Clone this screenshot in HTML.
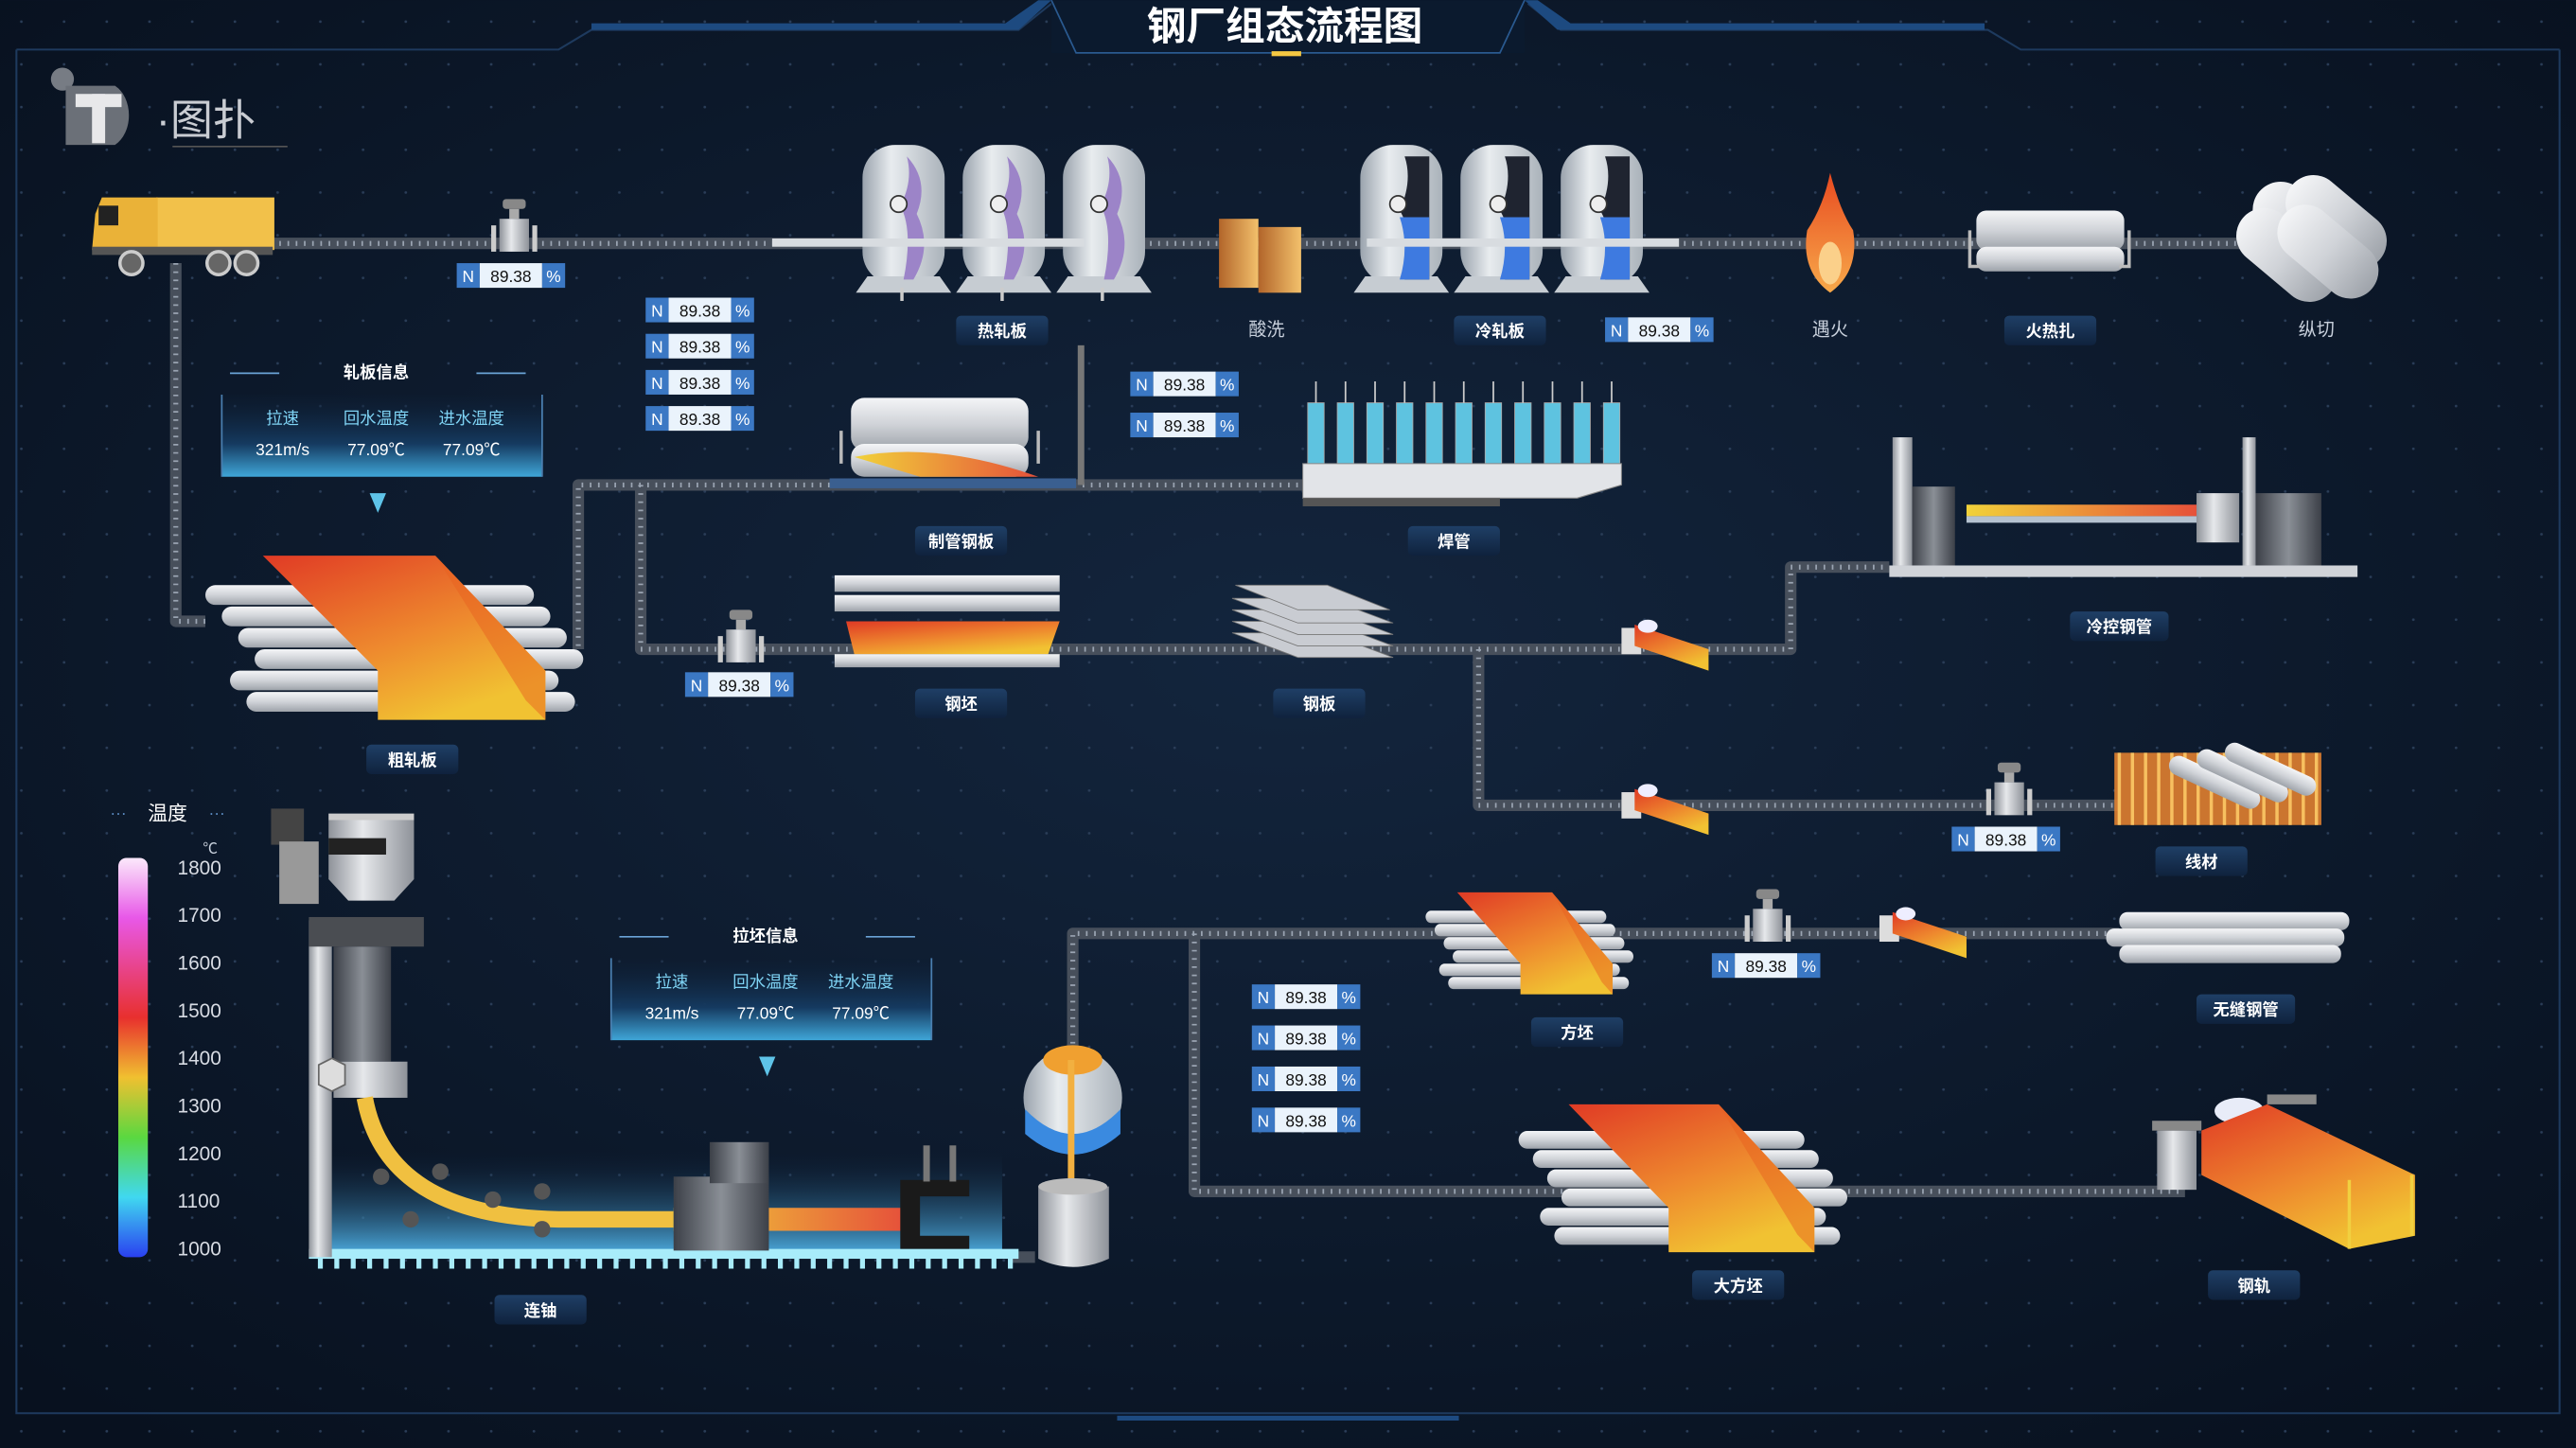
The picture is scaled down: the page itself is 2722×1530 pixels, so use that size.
<!DOCTYPE html>
<html><head><meta charset="utf-8"><style>
html,body{margin:0;padding:0;background:#0a1424;overflow:hidden}
svg{display:block}
text{font-family:"Liberation Sans","Noto Sans CJK SC",sans-serif}
</style></head><body>
<svg width="2722" height="1530" viewBox="0 0 1568 881" xmlns="http://www.w3.org/2000/svg">
<defs>
<radialGradient id="bg" cx="50%" cy="45%" r="70%"><stop offset="0" stop-color="#13253d"/><stop offset="1" stop-color="#08111f"/></radialGradient>
<linearGradient id="lbl" x1="0" y1="0" x2="0" y2="1"><stop offset="0" stop-color="#1f3f66"/><stop offset="1" stop-color="#0f223d"/></linearGradient>
<linearGradient id="hot" x1="0" y1="0" x2="0.6" y2="1"><stop offset="0" stop-color="#e03a25"/><stop offset="0.6" stop-color="#ee8a2e"/><stop offset="1" stop-color="#f1c232"/></linearGradient>
<linearGradient id="hotH" x1="0" y1="0" x2="1" y2="0"><stop offset="0" stop-color="#f1d23a"/><stop offset="1" stop-color="#e6513a"/></linearGradient>
<linearGradient id="roll" x1="0" y1="0" x2="0" y2="1"><stop offset="0" stop-color="#f4f5f7"/><stop offset="0.5" stop-color="#d0d3d8"/><stop offset="1" stop-color="#9ea3aa"/></linearGradient>
<linearGradient id="metal" x1="0" y1="0" x2="1" y2="0"><stop offset="0" stop-color="#8e9299"/><stop offset="0.4" stop-color="#e6e8eb"/><stop offset="1" stop-color="#8e9299"/></linearGradient>
<linearGradient id="dark" x1="0" y1="0" x2="1" y2="0"><stop offset="0" stop-color="#3c4048"/><stop offset="0.5" stop-color="#8a8f96"/><stop offset="1" stop-color="#3c4048"/></linearGradient>
<linearGradient id="tank" x1="0" y1="0" x2="1" y2="0"><stop offset="0" stop-color="#9aa3ad"/><stop offset="0.35" stop-color="#e8ecef"/><stop offset="1" stop-color="#aab2ba"/></linearGradient>
<linearGradient id="temp" x1="0" y1="0" x2="0" y2="1"><stop offset="0" stop-color="#fbe9fb"/><stop offset="0.15" stop-color="#e858e8"/><stop offset="0.4" stop-color="#e8302e"/><stop offset="0.55" stop-color="#f0c030"/><stop offset="0.7" stop-color="#5ad840"/><stop offset="0.85" stop-color="#40d8f0"/><stop offset="1" stop-color="#2a40f0"/></linearGradient>
<linearGradient id="panel" x1="0" y1="0" x2="0" y2="1"><stop offset="0" stop-color="#0d1c30" stop-opacity="0.3"/><stop offset="0.6" stop-color="#153a60"/><stop offset="1" stop-color="#3fa6d8"/></linearGradient>
<linearGradient id="cast" x1="0" y1="0" x2="0" y2="1"><stop offset="0" stop-color="#0e2038" stop-opacity="0"/><stop offset="1" stop-color="#4aa6d8"/></linearGradient>
<linearGradient id="flame" x1="0" y1="0" x2="0" y2="1"><stop offset="0" stop-color="#e84a20"/><stop offset="1" stop-color="#f7a94a"/></linearGradient>
<linearGradient id="box" x1="0" y1="0" x2="1" y2="0"><stop offset="0" stop-color="#b2652a"/><stop offset="1" stop-color="#f3c16c"/></linearGradient>
<pattern id="dots" width="26" height="26" patternUnits="userSpaceOnUse"><circle cx="13" cy="13" r="0.8" fill="#2a3d58"/></pattern>
</defs>
<rect width="1568" height="881" fill="url(#bg)"/>
<rect width="1568" height="881" fill="url(#dots)"/>

<!-- frame -->
<g fill="none" stroke="#1e3a5e" stroke-width="1.2">
<path d="M10 30 V860 H1558 V30"/>
<path d="M10 30 H340 L360 18 H620 L640 2"/>
<path d="M1558 30 H1230 L1210 18 H950 L930 2"/>
</g>
<path d="M360 14 H612 L632 0 H640 L620 18 H360 Z" fill="#1d4a80"/>
<path d="M1208 14 H956 L936 0 H928 L948 18 H1208 Z" fill="#1d4a80"/>
<rect x="640" y="0" width="288" height="32" fill="#0b1a2e"/>
<path d="M640 0 L655 32 H913 L928 0" fill="none" stroke="#2a5a90"/>
<rect x="774" y="31" width="18" height="3" fill="#f5c842"/>
<text x="782" y="24" text-anchor="middle" font-size="24" font-weight="bold" fill="#fff">钢厂组态流程图</text>
<path d="M680 863 H888" stroke="#1d4a80" stroke-width="3"/>

<!-- logo -->
<circle cx="38" cy="48" r="7" fill="#777c84"/>
<path d="M40 52 H70 A15 20 0 0 1 70 88 H40 Z" fill="#6b7078"/>
<rect x="46" y="57" width="28" height="8" fill="#e8e8ea"/><rect x="56" y="57" width="8" height="30" fill="#e8e8ea"/>
<text x="95" y="82" font-size="26" fill="#c9ccd2" font-family="'Noto Serif CJK SC',serif">·图扑</text>
<line x1="105" y1="89" x2="175" y2="89" stroke="#555"/>

<!-- pipes -->
<g fill="none" stroke-linejoin="round">
<g stroke="#474f5b" stroke-width="7">
<path d="M165 148 H1365"/>
<path d="M107 160 V378 H125"/>
<path d="M795 295 H352 V395"/>
<path d="M390 295 V395 H1090 V345 H1150"/>
<path d="M900 395 V490 H1290"/>
<path d="M653 640 V568 H1290"/>
<path d="M727 568 V725 H1330"/>
<path d="M615 765 H630"/>
</g>
<g stroke="#9aa4b2" stroke-width="3" stroke-dasharray="1 4">
<path d="M165 148 H1365"/>
<path d="M107 160 V378 H125"/>
<path d="M795 295 H352 V395"/>
<path d="M390 295 V395 H1090 V345 H1150"/>
<path d="M900 395 V490 H1290"/>
<path d="M653 640 V568 H1290"/>
<path d="M727 568 V725 H1330"/>
</g>
</g>

<!-- truck -->
<rect x="95" y="120" width="72" height="32" fill="#f2c14a"/>
<path d="M58 130 L62 120 H96 V152 H56 Z" fill="#eab238"/>
<rect x="60" y="125" width="12" height="12" fill="#222"/>
<rect x="56" y="150" width="110" height="5" fill="#555"/>
<circle cx="80" cy="160" r="7" fill="#666" stroke="#ccc" stroke-width="2"/>
<circle cx="133" cy="160" r="7" fill="#666" stroke="#ccc" stroke-width="2"/>
<circle cx="150" cy="160" r="7" fill="#666" stroke="#ccc" stroke-width="2"/>

<!-- valves -->
<g id="v1">
<rect x="306" y="121" width="14" height="6" rx="2" fill="#888"/><rect x="310" y="127" width="6" height="6" fill="#aaa"/>
<rect x="304" y="133" width="18" height="20" fill="url(#metal)"/><rect x="299" y="137" width="3" height="16" fill="#ccc"/><rect x="324" y="137" width="3" height="16" fill="#ccc"/>
</g>
<use href="#v1" x="138" y="250"/>
<use href="#v1" x="910" y="343"/>
<use href="#v1" x="763" y="420"/>

<!-- N boxes -->
<g font-size="10">
<g transform="translate(278,160)"><rect width="14" height="15" fill="#3b78c4"/><rect x="14" width="38" height="15" fill="#eaf3fc"/><rect x="52" width="14" height="15" fill="#3b78c4"/><text x="7" y="11.5" fill="#fff" text-anchor="middle">N</text><text x="33" y="11.5" text-anchor="middle" fill="#111">89.38</text><text x="59" y="11.5" text-anchor="middle" fill="#fff">%</text></g>
<g transform="translate(393,181)"><rect width="14" height="15" fill="#3b78c4"/><rect x="14" width="38" height="15" fill="#eaf3fc"/><rect x="52" width="14" height="15" fill="#3b78c4"/><text x="7" y="11.5" fill="#fff" text-anchor="middle">N</text><text x="33" y="11.5" text-anchor="middle" fill="#111">89.38</text><text x="59" y="11.5" text-anchor="middle" fill="#fff">%</text></g>
<g transform="translate(393,203)"><rect width="14" height="15" fill="#3b78c4"/><rect x="14" width="38" height="15" fill="#eaf3fc"/><rect x="52" width="14" height="15" fill="#3b78c4"/><text x="7" y="11.5" fill="#fff" text-anchor="middle">N</text><text x="33" y="11.5" text-anchor="middle" fill="#111">89.38</text><text x="59" y="11.5" text-anchor="middle" fill="#fff">%</text></g>
<g transform="translate(393,225)"><rect width="14" height="15" fill="#3b78c4"/><rect x="14" width="38" height="15" fill="#eaf3fc"/><rect x="52" width="14" height="15" fill="#3b78c4"/><text x="7" y="11.5" fill="#fff" text-anchor="middle">N</text><text x="33" y="11.5" text-anchor="middle" fill="#111">89.38</text><text x="59" y="11.5" text-anchor="middle" fill="#fff">%</text></g>
<g transform="translate(393,247)"><rect width="14" height="15" fill="#3b78c4"/><rect x="14" width="38" height="15" fill="#eaf3fc"/><rect x="52" width="14" height="15" fill="#3b78c4"/><text x="7" y="11.5" fill="#fff" text-anchor="middle">N</text><text x="33" y="11.5" text-anchor="middle" fill="#111">89.38</text><text x="59" y="11.5" text-anchor="middle" fill="#fff">%</text></g>
<g transform="translate(688,226)"><rect width="14" height="15" fill="#3b78c4"/><rect x="14" width="38" height="15" fill="#eaf3fc"/><rect x="52" width="14" height="15" fill="#3b78c4"/><text x="7" y="11.5" fill="#fff" text-anchor="middle">N</text><text x="33" y="11.5" text-anchor="middle" fill="#111">89.38</text><text x="59" y="11.5" text-anchor="middle" fill="#fff">%</text></g>
<g transform="translate(688,251)"><rect width="14" height="15" fill="#3b78c4"/><rect x="14" width="38" height="15" fill="#eaf3fc"/><rect x="52" width="14" height="15" fill="#3b78c4"/><text x="7" y="11.5" fill="#fff" text-anchor="middle">N</text><text x="33" y="11.5" text-anchor="middle" fill="#111">89.38</text><text x="59" y="11.5" text-anchor="middle" fill="#fff">%</text></g>
<g transform="translate(977,193)"><rect width="14" height="15" fill="#3b78c4"/><rect x="14" width="38" height="15" fill="#eaf3fc"/><rect x="52" width="14" height="15" fill="#3b78c4"/><text x="7" y="11.5" fill="#fff" text-anchor="middle">N</text><text x="33" y="11.5" text-anchor="middle" fill="#111">89.38</text><text x="59" y="11.5" text-anchor="middle" fill="#fff">%</text></g>
<g transform="translate(417,409)"><rect width="14" height="15" fill="#3b78c4"/><rect x="14" width="38" height="15" fill="#eaf3fc"/><rect x="52" width="14" height="15" fill="#3b78c4"/><text x="7" y="11.5" fill="#fff" text-anchor="middle">N</text><text x="33" y="11.5" text-anchor="middle" fill="#111">89.38</text><text x="59" y="11.5" text-anchor="middle" fill="#fff">%</text></g>
<g transform="translate(1188,503)"><rect width="14" height="15" fill="#3b78c4"/><rect x="14" width="38" height="15" fill="#eaf3fc"/><rect x="52" width="14" height="15" fill="#3b78c4"/><text x="7" y="11.5" fill="#fff" text-anchor="middle">N</text><text x="33" y="11.5" text-anchor="middle" fill="#111">89.38</text><text x="59" y="11.5" text-anchor="middle" fill="#fff">%</text></g>
<g transform="translate(1042,580)"><rect width="14" height="15" fill="#3b78c4"/><rect x="14" width="38" height="15" fill="#eaf3fc"/><rect x="52" width="14" height="15" fill="#3b78c4"/><text x="7" y="11.5" fill="#fff" text-anchor="middle">N</text><text x="33" y="11.5" text-anchor="middle" fill="#111">89.38</text><text x="59" y="11.5" text-anchor="middle" fill="#fff">%</text></g>
<g transform="translate(762,599)"><rect width="14" height="15" fill="#3b78c4"/><rect x="14" width="38" height="15" fill="#eaf3fc"/><rect x="52" width="14" height="15" fill="#3b78c4"/><text x="7" y="11.5" fill="#fff" text-anchor="middle">N</text><text x="33" y="11.5" text-anchor="middle" fill="#111">89.38</text><text x="59" y="11.5" text-anchor="middle" fill="#fff">%</text></g>
<g transform="translate(762,624)"><rect width="14" height="15" fill="#3b78c4"/><rect x="14" width="38" height="15" fill="#eaf3fc"/><rect x="52" width="14" height="15" fill="#3b78c4"/><text x="7" y="11.5" fill="#fff" text-anchor="middle">N</text><text x="33" y="11.5" text-anchor="middle" fill="#111">89.38</text><text x="59" y="11.5" text-anchor="middle" fill="#fff">%</text></g>
<g transform="translate(762,649)"><rect width="14" height="15" fill="#3b78c4"/><rect x="14" width="38" height="15" fill="#eaf3fc"/><rect x="52" width="14" height="15" fill="#3b78c4"/><text x="7" y="11.5" fill="#fff" text-anchor="middle">N</text><text x="33" y="11.5" text-anchor="middle" fill="#111">89.38</text><text x="59" y="11.5" text-anchor="middle" fill="#fff">%</text></g>
<g transform="translate(762,674)"><rect width="14" height="15" fill="#3b78c4"/><rect x="14" width="38" height="15" fill="#eaf3fc"/><rect x="52" width="14" height="15" fill="#3b78c4"/><text x="7" y="11.5" fill="#fff" text-anchor="middle">N</text><text x="33" y="11.5" text-anchor="middle" fill="#111">89.38</text><text x="59" y="11.5" text-anchor="middle" fill="#fff">%</text></g>
</g>

<!-- tanks -->
<g id="tp">
<rect x="525" y="88" width="50" height="85" rx="20" fill="url(#tank)"/>
<path d="M521 178 L528 168 H572 L579 178" fill="#c6ccd2"/>
<path d="M552 95 Q566 110 558 130 Q568 150 556 170 H550 Q556 140 548 125 Q556 110 552 95Z" fill="#9c84c8"/>
<circle cx="547" cy="124" r="5" fill="#eee" stroke="#333"/>
<rect x="548" y="175" width="2" height="8" fill="#ccc"/>
</g>
<use href="#tp" x="61"/><use href="#tp" x="122"/>
<rect x="470" y="145" width="190" height="5" fill="#d8dce0"/>
<g id="tb">
<rect x="828" y="88" width="50" height="85" rx="20" fill="url(#tank)"/>
<path d="M824 178 L831 168 H875 L882 178" fill="#c6ccd2"/>
<path d="M855 95 H870 V170 H855 Q860 140 852 128 Q860 110 855 95Z" fill="#1f2430"/>
<path d="M852 132 H870 V170 H852 Q858 150 852 132Z" fill="#3e7ae0"/>
<circle cx="851" cy="124" r="5" fill="#eee" stroke="#333"/>
</g>
<use href="#tb" x="61"/><use href="#tb" x="122"/>
<rect x="832" y="145" width="190" height="5" fill="#d8dce0"/>

<!-- boxes 酸洗 -->
<rect x="742" y="133" width="24" height="42" fill="url(#box)"/><rect x="766" y="138" width="26" height="40" fill="url(#box)"/>
<!-- flame -->
<path d="M1114 105 Q1110 125 1100 140 Q1096 165 1114 178 Q1132 165 1128 140 Q1120 128 1114 105Z" fill="url(#flame)"/>
<ellipse cx="1114" cy="160" rx="7" ry="13" fill="#fbd08a"/>
<!-- rollers 火热扎 -->
<rect x="1203" y="128" width="90" height="24" rx="6" fill="url(#roll)"/><rect x="1203" y="150" width="90" height="15" rx="6" fill="url(#roll)"/>
<path d="M1199 140 V162 H1205 M1296 140 V162 H1290" stroke="#bbb" fill="none" stroke-width="2"/>
<!-- 纵切 pipes -->
<g fill="url(#roll)">
<rect x="1385" y="104" width="34" height="70" rx="17" transform="rotate(-50 1402 139)"/>
<rect x="1405" y="100" width="34" height="70" rx="17" transform="rotate(-50 1422 135)"/>
<rect x="1375" y="120" width="34" height="70" rx="17" transform="rotate(-50 1392 155)"/>
<rect x="1400" y="118" width="34" height="70" rx="17" transform="rotate(-50 1417 153)"/>
</g>

<!-- top labels -->
<g font-size="10" font-weight="bold" fill="#fff" text-anchor="middle">
<rect x="582" y="192" width="56" height="18" rx="3" fill="url(#lbl)"/><text x="610" y="205">热轧板</text>
<rect x="885" y="192" width="56" height="18" rx="3" fill="url(#lbl)"/><text x="913" y="205">冷轧板</text>
<rect x="1220" y="192" width="56" height="18" rx="3" fill="url(#lbl)"/><text x="1248" y="205">火热扎</text>
<rect x="557" y="320" width="56" height="18" rx="3" fill="url(#lbl)"/><text x="585" y="333">制管钢板</text>
<rect x="857" y="320" width="56" height="18" rx="3" fill="url(#lbl)"/><text x="885" y="333">焊管</text>
<rect x="223" y="453" width="56" height="18" rx="3" fill="url(#lbl)"/><text x="251" y="466">粗轧板</text>
<rect x="557" y="419" width="56" height="18" rx="3" fill="url(#lbl)"/><text x="585" y="432">钢坯</text>
<rect x="775" y="419" width="56" height="18" rx="3" fill="url(#lbl)"/><text x="803" y="432">钢板</text>
<rect x="1260" y="372" width="60" height="18" rx="3" fill="url(#lbl)"/><text x="1290" y="385">冷控钢管</text>
<rect x="1312" y="515" width="56" height="18" rx="3" fill="url(#lbl)"/><text x="1340" y="528">线材</text>
<rect x="932" y="619" width="56" height="18" rx="3" fill="url(#lbl)"/><text x="960" y="632">方坯</text>
<rect x="1337" y="605" width="60" height="18" rx="3" fill="url(#lbl)"/><text x="1367" y="618">无缝钢管</text>
<rect x="1030" y="773" width="56" height="18" rx="3" fill="url(#lbl)"/><text x="1058" y="786">大方坯</text>
<rect x="1344" y="773" width="56" height="18" rx="3" fill="url(#lbl)"/><text x="1372" y="786">钢轨</text>
<rect x="301" y="788" width="56" height="18" rx="3" fill="url(#lbl)"/><text x="329" y="801">连铀</text>
</g>
<g font-size="11" fill="#c8d0dc" text-anchor="middle">
<text x="771" y="204">酸洗</text><text x="1114" y="204">遇火</text><text x="1410" y="204">纵切</text>
</g>

<!-- 制管钢板 machine -->
<rect x="518" y="242" width="108" height="32" rx="8" fill="url(#roll)"/>
<rect x="518" y="270" width="108" height="20" rx="8" fill="url(#roll)"/>
<path d="M520 278 Q570 268 632 290 L560 290Z" fill="url(#hotH)"/>
<path d="M512 262 V282 M632 262 V282" stroke="#bbb" stroke-width="2"/>
<rect x="656" y="210" width="4" height="85" fill="#777"/>
<rect x="505" y="291" width="150" height="6" fill="#3a5f90"/>

<!-- 焊管 -->
<g fill="#5ec3e0" stroke="#aaa" stroke-width="0.5">
<rect x="796" y="245" width="10" height="37"/><rect x="814" y="245" width="10" height="37"/><rect x="832" y="245" width="10" height="37"/><rect x="850" y="245" width="10" height="37"/><rect x="868" y="245" width="10" height="37"/><rect x="886" y="245" width="10" height="37"/><rect x="904" y="245" width="10" height="37"/><rect x="922" y="245" width="10" height="37"/><rect x="940" y="245" width="10" height="37"/><rect x="958" y="245" width="10" height="37"/><rect x="976" y="245" width="10" height="37"/>
</g>
<path d="M801 232V245M819 232V245M837 232V245M855 232V245M873 232V245M891 232V245M909 232V245M927 232V245M945 232V245M963 232V245M981 232V245" stroke="#ccc"/>
<path d="M793 282 H987 V295 L960 303 H793Z" fill="#e2e4e8" stroke="#888" stroke-width="0.6"/>
<rect x="793" y="303" width="120" height="5" fill="#555"/>

<!-- info panel 轧板信息 -->
<g id="ip">
<text x="229" y="230" text-anchor="middle" font-size="10" font-weight="bold" fill="#fff">轧板信息</text>
<path d="M140 227 H170 M290 227 H320" stroke="#6aa3d6"/>
<path d="M135 240 H330 V290 H135Z" fill="url(#panel)"/>
<path d="M135 240 V290 M330 240 V290" stroke="#4a7fb0"/>
<g font-size="10" text-anchor="middle"><text x="172" y="258" fill="#7fd4f5">拉速</text><text x="229" y="258" fill="#7fd4f5">回水温度</text><text x="287" y="258" fill="#7fd4f5">进水温度</text>
<text x="172" y="277" fill="#fff">321m/s</text><text x="229" y="277" fill="#fff">77.09℃</text><text x="287" y="277" fill="#fff">77.09℃</text></g>
<path d="M225 300 H235 L230 312Z" fill="#5ec3e8"/>
</g>
<g transform="translate(237,343)">
<text x="229" y="230" text-anchor="middle" font-size="10" font-weight="bold" fill="#fff">拉坯信息</text>
<path d="M140 227 H170 M290 227 H320" stroke="#6aa3d6"/>
<path d="M135 240 H330 V290 H135Z" fill="url(#panel)"/>
<path d="M135 240 V290 M330 240 V290" stroke="#4a7fb0"/>
<g font-size="10" text-anchor="middle"><text x="172" y="258" fill="#7fd4f5">拉速</text><text x="229" y="258" fill="#7fd4f5">回水温度</text><text x="287" y="258" fill="#7fd4f5">进水温度</text>
<text x="172" y="277" fill="#fff">321m/s</text><text x="229" y="277" fill="#fff">77.09℃</text><text x="287" y="277" fill="#fff">77.09℃</text></g>
<path d="M225 300 H235 L230 312Z" fill="#5ec3e8"/>
</g>

<!-- slabs -->
<g id="slab" transform="translate(120,338)">
<g fill="url(#roll)">
<rect x="5" y="18" width="200" height="12" rx="6"/><rect x="15" y="31" width="200" height="12" rx="6"/><rect x="25" y="44" width="200" height="12" rx="6"/><rect x="35" y="57" width="200" height="12" rx="6"/><rect x="20" y="70" width="200" height="12" rx="6"/><rect x="30" y="83" width="200" height="12" rx="6"/>
</g>
<path d="M40 0 H145 L212 70 V100 H110 V70 Z" fill="url(#hot)"/>
<path d="M145 0 L212 70 V100 L200 88 Z" fill="#e8621f" opacity="0.5"/>
</g>
<g transform="translate(865,543) scale(0.55,0.62)"><use href="#slab" transform="translate(-120,-338)"/></g>
<g transform="translate(920,672) scale(0.87,0.9)"><use href="#slab" transform="translate(-120,-338)"/></g>

<!-- 钢坯 machine -->
<rect x="508" y="350" width="137" height="10" fill="url(#roll)"/>
<rect x="508" y="362" width="137" height="10" fill="url(#roll)"/>
<path d="M515 378 H645 L638 398 H520Z" fill="url(#hot)"/>
<rect x="508" y="398" width="137" height="8" fill="url(#roll)"/>
<!-- 钢板 stack -->
<g fill="#c9ccd2" stroke="#777" stroke-width="0.5">
<path d="M750 385 L790 400 H848 L808 385Z"/><path d="M750 378 L790 393 H848 L808 378Z"/><path d="M750 371 L790 386 H848 L808 371Z"/><path d="M750 364 L790 379 H848 L808 364Z"/><path d="M752 356 L790 371 H846 L808 356Z"/>
</g>
<!-- small hot pieces -->
<g id="sp"><rect x="987" y="382" width="12" height="16" fill="#ddd"/><path d="M995 380 L1040 395 V408 L995 393Z" fill="url(#hot)"/><ellipse cx="1003" cy="381" rx="6" ry="4" fill="#eef"/></g>
<use href="#sp" y="100"/><use href="#sp" x="157" y="175"/>

<!-- 冷控钢管 -->
<rect x="1152" y="266" width="12" height="78" fill="url(#metal)"/>
<rect x="1164" y="296" width="26" height="48" fill="url(#dark)"/>
<rect x="1197" y="307" width="140" height="7" fill="url(#hotH)"/>
<rect x="1197" y="314" width="140" height="4" fill="#b5c2d0"/>
<rect x="1337" y="300" width="26" height="30" fill="url(#metal)"/>
<rect x="1365" y="266" width="8" height="78" fill="url(#metal)"/>
<rect x="1373" y="300" width="40" height="44" fill="url(#dark)"/>
<rect x="1150" y="344" width="285" height="7" fill="#d0d3d8"/>

<!-- 线材 -->
<rect x="1287" y="458" width="126" height="44" fill="#e08030" opacity="0.9"/>
<path d="M1290 458 V502 M1298 458 V502 M1306 458 V502 M1314 458 V502 M1322 458 V502 M1330 458 V502 M1338 458 V502 M1346 458 V502 M1354 458 V502 M1362 458 V502 M1370 458 V502 M1378 458 V502 M1386 458 V502 M1394 458 V502 M1402 458 V502 M1410 458 V502" stroke="#f7c060" stroke-width="2"/>
<g fill="url(#roll)"><rect x="1318" y="470" width="60" height="12" rx="6" transform="rotate(25 1348 476)"/><rect x="1335" y="466" width="60" height="12" rx="6" transform="rotate(25 1365 472)"/><rect x="1352" y="462" width="60" height="12" rx="6" transform="rotate(25 1382 468)"/></g>

<!-- 无缝钢管 -->
<g fill="url(#roll)"><rect x="1290" y="555" width="140" height="11" rx="5"/><rect x="1282" y="565" width="145" height="11" rx="5"/><rect x="1290" y="575" width="135" height="11" rx="5"/></g>

<!-- 钢轨 -->
<rect x="1310" y="682" width="30" height="6" fill="#888"/><rect x="1313" y="688" width="24" height="36" fill="url(#metal)"/>
<rect x="1380" y="666" width="30" height="6" fill="#888"/>
<ellipse cx="1363" cy="676" rx="15" ry="8" fill="#e8ecf8"/>
<path d="M1340 688 L1380 672 L1470 715 V752 L1430 760 L1340 715Z" fill="url(#hot)"/>
<path d="M1430 718 V760 M1468 715 V752" stroke="#f1d040" stroke-width="2"/>

<!-- temperature legend -->
<text x="102" y="499" font-size="12" fill="#fff" text-anchor="middle">温度</text>
<text x="72" y="498" font-size="10" fill="#5a8ac0" text-anchor="middle">···</text><text x="132" y="498" font-size="10" fill="#5a8ac0" text-anchor="middle">···</text>
<text x="128" y="519" font-size="9" fill="#c8d0dc" text-anchor="middle">℃</text>
<rect x="72" y="522" width="18" height="243" rx="5" fill="url(#temp)"/>
<g font-size="12" fill="#d8dce4"><text x="108" y="532">1800</text><text x="108" y="561">1700</text><text x="108" y="590">1600</text><text x="108" y="619">1500</text><text x="108" y="648">1400</text><text x="108" y="677">1300</text><text x="108" y="706">1200</text><text x="108" y="735">1100</text><text x="108" y="764">1000</text></g>

<!-- continuous casting -->
<rect x="190" y="700" width="420" height="62" fill="url(#cast)"/>
<rect x="188" y="760" width="432" height="6" fill="#a8ecfa"/>
<path d="M195 766 V772 M205 766 V772 M215 766 V772 M225 766 V772 M235 766 V772 M245 766 V772 M255 766 V772 M265 766 V772 M275 766 V772 M285 766 V772 M295 766 V772 M305 766 V772 M315 766 V772 M325 766 V772 M335 766 V772 M345 766 V772 M355 766 V772 M365 766 V772 M375 766 V772 M385 766 V772 M395 766 V772 M405 766 V772 M415 766 V772 M425 766 V772 M435 766 V772 M445 766 V772 M455 766 V772 M465 766 V772 M475 766 V772 M485 766 V772 M495 766 V772 M505 766 V772 M515 766 V772 M525 766 V772 M535 766 V772 M545 766 V772 M555 766 V772 M565 766 V772 M575 766 V772 M585 766 V772 M595 766 V772 M605 766 V772 M615 766 V772" stroke="#a8ecfa" stroke-width="3"/>
<rect x="188" y="560" width="14" height="205" fill="url(#metal)"/>
<rect x="165" y="492" width="20" height="22" fill="#444"/><rect x="170" y="512" width="24" height="38" fill="#999"/>
<rect x="200" y="495" width="52" height="4" fill="#ccc"/>
<path d="M200 499 H252 V535 L240 548 H212 L200 535Z" fill="url(#metal)"/>
<rect x="200" y="510" width="35" height="10" fill="#222"/>
<rect x="188" y="558" width="70" height="18" fill="#4a4d52"/>
<rect x="203" y="576" width="35" height="70" fill="url(#dark)"/>
<rect x="203" y="646" width="45" height="22" fill="url(#metal)"/>
<path d="M194 648 L202 644 L210 648 V660 L202 664 L194 660Z" fill="#ddd" stroke="#666"/>
<path d="M222 668 Q235 740 340 742 H410" stroke="#f0c040" stroke-width="10" fill="none"/>
<rect x="410" y="735" width="140" height="14" fill="url(#hotH)"/>
<rect x="410" y="716" width="58" height="45" fill="url(#dark)"/><rect x="432" y="695" width="36" height="25" fill="url(#dark)"/>
<path d="M548 718 H590 V728 H560 V752 H590 V760 H548Z" fill="#1a1a1a"/>
<rect x="562" y="697" width="4" height="22" fill="#777"/><rect x="578" y="697" width="4" height="22" fill="#777"/>
<g fill="#555"><circle cx="232" cy="716" r="5"/><circle cx="268" cy="713" r="5"/><circle cx="300" cy="730" r="5"/><circle cx="330" cy="725" r="5"/><circle cx="250" cy="742" r="5"/><circle cx="330" cy="748" r="5"/></g>

<!-- ladle -->
<ellipse cx="653" cy="668" rx="30" ry="30" fill="url(#tank)"/>
<path d="M624 675 Q653 705 682 675 V690 Q653 715 624 690Z" fill="#3a8ae0"/>
<ellipse cx="653" cy="645" rx="18" ry="9" fill="#f0a030"/>
<rect x="650" y="645" width="4" height="82" fill="#f2b040"/>
<path d="M632 722 H675 V766 Q653 776 632 766Z" fill="url(#metal)"/>
<ellipse cx="653" cy="722" rx="21" ry="5" fill="#bbb"/>
</svg>
</body></html>
